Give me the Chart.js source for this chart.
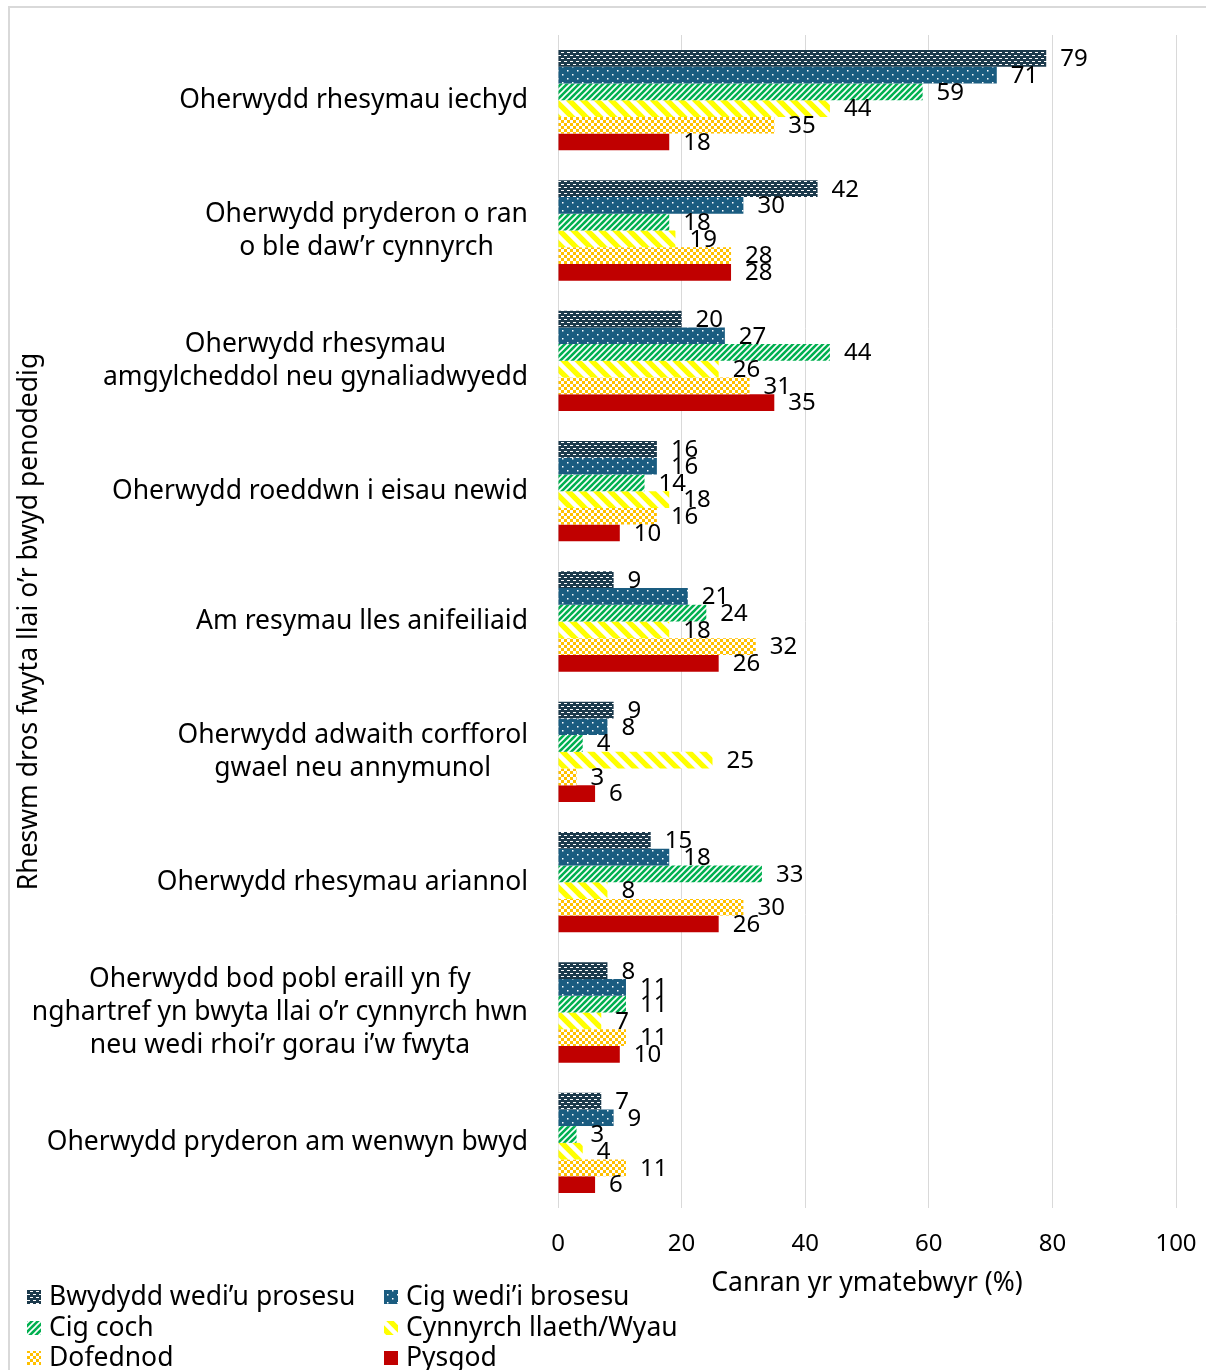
<!DOCTYPE html>
<html>
<head>
<meta charset="utf-8">
<script src="https://cdn.jsdelivr.net/npm/chart.js@4.4.1/dist/chart.umd.min.js"></script>
<style>
  html, body { margin: 0; padding: 0; background: #fff; overflow: hidden; }
  #frame { position: absolute; left: 8px; top: 6px; width: 1400px; height: 1500px; border: 2px solid #d9d9d9; }
  #wrap { position: absolute; left: 0; top: 0; width: 1206px; height: 1420px; }
</style>
</head>
<body>
<div id="frame"></div>
<div id="wrap"><canvas id="chart"></canvas></div>
<script>
// categories (reasons)
const categories = [
    ['Oherwydd rhesymau iechyd'],
    ['Oherwydd pryderon o ran', 'o ble daw\u2019r cynnyrch'],
    ['Oherwydd rhesymau', 'amgylcheddol neu gynaliadwyedd'],
    ['Oherwydd roeddwn i eisau newid'],
    ['Am resymau lles anifeiliaid'],
    ['Oherwydd adwaith corfforol', 'gwael neu annymunol'],
    ['Oherwydd rhesymau ariannol'],
    ['Oherwydd bod pobl eraill yn fy', 'nghartref yn bwyta llai o\u2019r cynnyrch hwn', 'neu wedi rhoi\u2019r gorau i\u2019w fwyta'],
    ['Oherwydd pryderon am wenwyn bwyd']
];

const seriesNames = ['Bwydydd wedi\u2019u prosesu', 'Cig wedi\u2019i brosesu', 'Cig coch', 'Cynnyrch llaeth/Wyau', 'Dofednod', 'Pysgod'];

const processedFood = [79, 42, 20, 16, 9, 9, 15, 8, 7];
const processedMeat = [71, 30, 27, 16, 21, 8, 18, 11, 9];
const redMeat       = [59, 18, 44, 14, 24, 4, 33, 11, 3];
const dairyEggs     = [44, 19, 26, 18, 18, 25, 8, 7, 4];
const poultry       = [35, 28, 31, 16, 32, 3, 30, 11, 11];
const fish          = [18, 28, 35, 10, 26, 6, 26, 10, 6];

const xTicks = [0, 20, 40, 60, 80, 100];

const FONT = '"Noto Sans", "Open Sans", sans-serif';

// pattern helpers
function makePattern(w, h, bg, draw) {
    const c = document.createElement('canvas');
    c.width = w; c.height = h;
    const x = c.getContext('2d');
    x.fillStyle = bg;
    x.fillRect(0, 0, w, h);
    x.fillStyle = '#fff';
    x.strokeStyle = '#fff';
    draw(x, w, h);
    return x.createPattern(c, 'repeat');
}

const fills = [
    makePattern(6, 6, '#1c3a4c', (x) => {
        x.fillRect(0, 1, 3, 1);
        x.fillRect(3, 4, 3, 1);
    }),
    makePattern(10, 8, '#1a5c80', (x) => {
        x.fillRect(2, 2, 1.5, 1.5);
        x.fillRect(7, 6, 1.5, 1.5);
    }),
    makePattern(6, 6, '#00b050', (x) => {
        x.lineWidth = 1.6;
        x.beginPath();
        x.moveTo(-1, 7); x.lineTo(7, -1);
        x.moveTo(-4, 4); x.lineTo(4, -4);
        x.moveTo(2, 10); x.lineTo(10, 2);
        x.stroke();
    }),
    makePattern(14, 14, '#ffff00', (x) => {
        x.lineWidth = 4.5;
        x.beginPath();
        x.moveTo(-1, -1); x.lineTo(15, 15);
        x.moveTo(-8, 6); x.lineTo(8, 22);
        x.moveTo(6, -8); x.lineTo(22, 8);
        x.stroke();
    }),
    makePattern(6, 6, '#ffc000', (x) => {
        x.fillRect(0, 0, 3, 3);
        x.fillRect(3, 3, 3, 3);
    }),
    '#c00000'
];

// value labels at bar ends
const valueLabels = {
    id: 'valueLabels',
    afterDatasetsDraw(chart) {
        const ctx = chart.ctx;
        ctx.save();
        ctx.font = '24px ' + FONT;
        ctx.fillStyle = '#000';
        ctx.textAlign = 'left';
        ctx.textBaseline = 'middle';
        chart.data.datasets.forEach((ds, i) => {
            chart.getDatasetMeta(i).data.forEach((bar, j) => {
                ctx.fillText(ds.data[j], bar.x + 14, bar.y + 1);
            });
        });
        ctx.restore();
    }
};

// category labels: block right-aligned, lines centred inside block
const categoryLabels = {
    id: 'categoryLabels',
    afterDraw(chart) {
        const ctx = chart.ctx;
        const yScale = chart.scales.y;
        const right = 528;
        const lineH = 33;
        ctx.save();
        ctx.font = '26.5px ' + FONT;
        ctx.fillStyle = '#000';
        ctx.textAlign = 'center';
        ctx.textBaseline = 'middle';
        categories.forEach((lines, i) => {
            const cy = yScale.getPixelForTick(i);
            const w = Math.max(...lines.map(l => ctx.measureText(l).width));
            const cx = right - w / 2;
            const y0 = cy - (lines.length - 1) * lineH / 2;
            lines.forEach((l, k) => ctx.fillText(l, cx, y0 + k * lineH));
        });
        ctx.restore();
    }
};

// two-column legend at the bottom left
const gridLegend = {
    id: 'gridLegend',
    afterDraw(chart) {
        const ctx = chart.ctx;
        const colX = [27, 384];
        const rowY = [1297, 1328, 1358];
        ctx.save();
        ctx.font = '26.5px ' + FONT;
        ctx.textBaseline = 'middle';
        seriesNames.forEach((name, i) => {
            const x = colX[i % 2];
            const y = rowY[Math.floor(i / 2)];
            ctx.fillStyle = fills[i];
            ctx.fillRect(x, y - 7, 14, 14);
            ctx.fillStyle = '#000';
            ctx.fillText(name, x + 22, y);
        });
        ctx.restore();
    }
};

const datasets = [processedFood, processedMeat, redMeat, dairyEggs, poultry, fish].map((data, i) => ({
    label: seriesNames[i],
    data: data,
    backgroundColor: fills[i],
    borderWidth: 0,
    categoryPercentage: 0.77,
    barPercentage: 1.0
}));

new Chart(document.getElementById('chart'), {
    type: 'bar',
    data: {
        labels: categories.map(c => c.join(' ')),
        datasets: datasets
    },
    options: {
        indexAxis: 'y',
        responsive: true,
        maintainAspectRatio: false,
        animation: false,
        layout: { padding: { top: 35, right: 30, left: 0, bottom: 121 } },
        plugins: {
            legend: { display: false },
            tooltip: { enabled: false }
        },
        scales: {
            x: {
                min: 0,
                max: 100,
                afterBuildTicks: (s) => { s.ticks = xTicks.map(v => ({ value: v })); },
                afterFit: (s) => { s.height = 91; s.paddingLeft = 0; s.paddingRight = 0; },
                grid: { color: '#d9d9d9', lineWidth: 1, drawTicks: false },
                border: { display: false },
                ticks: { color: '#000', padding: 22, font: { size: 24, family: FONT } },
                title: {
                    display: true,
                    text: 'Canran yr ymatebwyr (%)',
                    color: '#000',
                    padding: { top: 0, bottom: 0 },
                    font: { size: 26.5, family: FONT }
                }
            },
            y: {
                afterFit: (s) => { s.width = 558; s.paddingTop = 0; s.paddingBottom = 0; },
                grid: { display: false },
                border: { display: false },
                ticks: { display: false },
                title: {
                    display: true,
                    text: 'Rheswm dros fwyta llai o\u2019r bwyd penodedig',
                    color: '#000',
                    padding: { top: 14, bottom: 0 },
                    font: { size: 26.5, family: FONT }
                }
            }
        }
    },
    plugins: [valueLabels, categoryLabels, gridLegend]
});
</script>
</body>
</html>
